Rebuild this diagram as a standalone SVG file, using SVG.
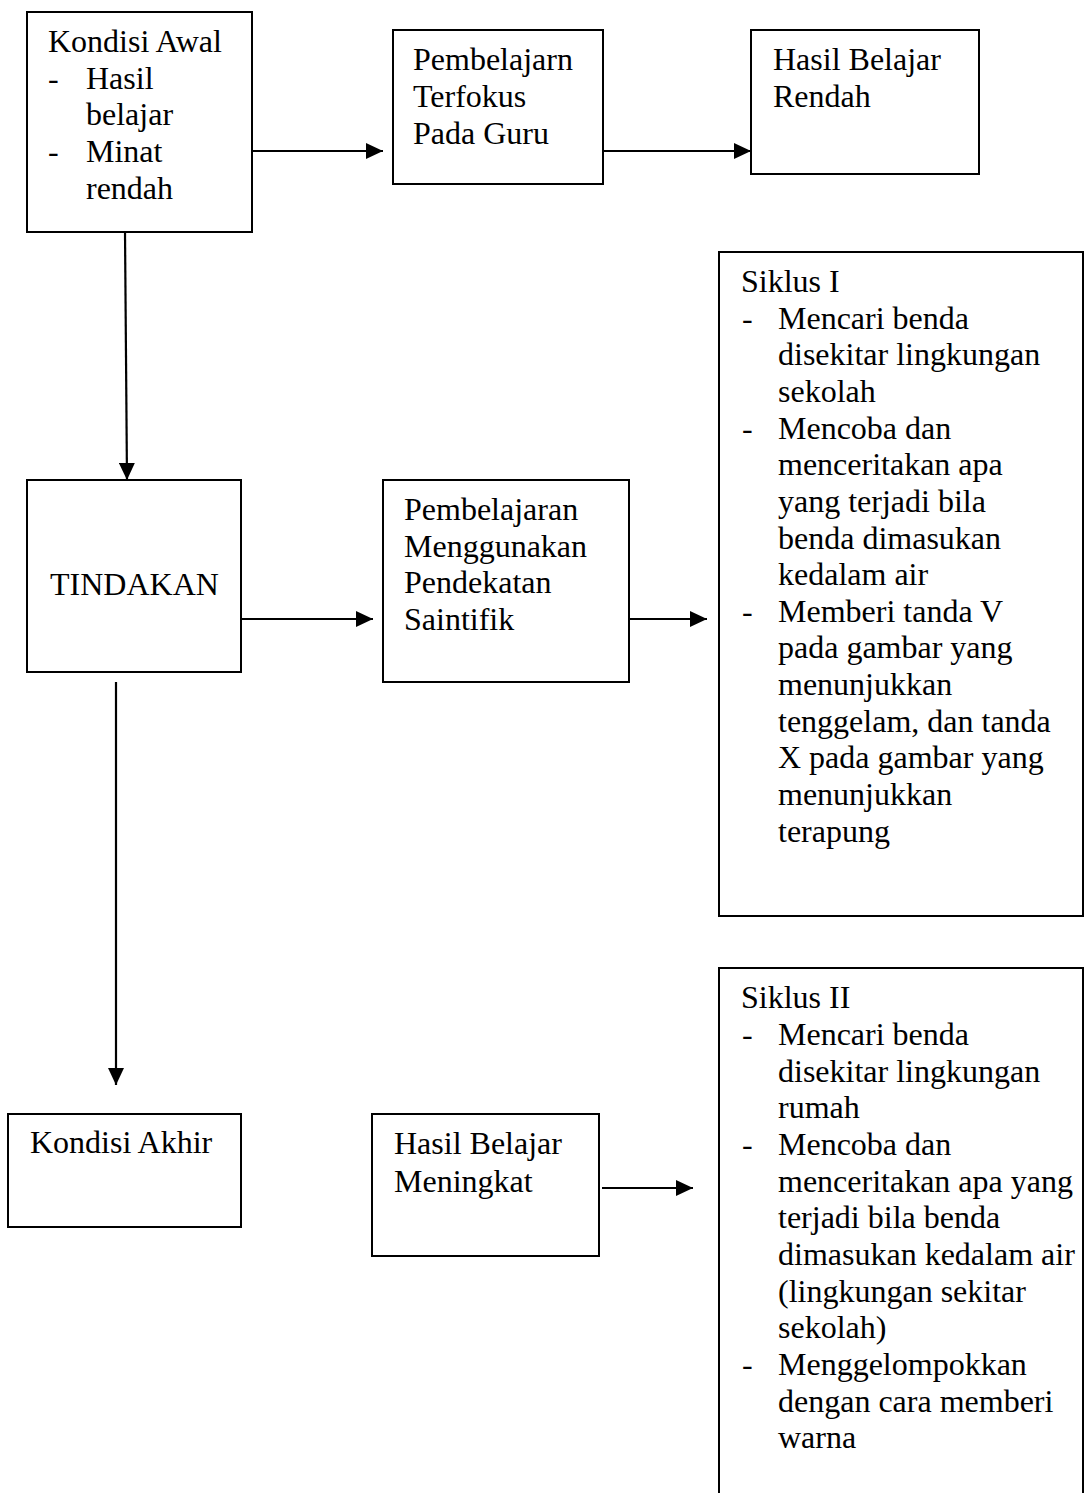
<svg xmlns="http://www.w3.org/2000/svg" width="1085" height="1493" viewBox="0 0 1085 1493">
<style>
.box{fill:#fff;stroke:#000;stroke-width:2}
.t{font-family:"Liberation Serif","Times New Roman",serif;font-size:32px;fill:#000}
.c{stroke:#000;stroke-width:2.2;fill:none}
</style>
<defs>
<marker id="ah" markerUnits="userSpaceOnUse" markerWidth="17" markerHeight="16" refX="17" refY="8" orient="auto">
<path d="M0,0 L17,8 L0,16 z" fill="#000"/>
</marker>
</defs>
<rect width="1085" height="1493" fill="#fff"/>

<g id="kondisi-awal">
<rect class="box" x="27" y="12" width="225" height="220"/>
<text class="t" x="48" y="52">Kondisi Awal</text>
<text class="t" x="48" y="89">-</text><text class="t" x="86" y="89">Hasil</text>
<text class="t" x="86" y="125">belajar</text>
<text class="t" x="48" y="162">-</text><text class="t" x="86" y="162">Minat</text>
<text class="t" x="86" y="199">rendah</text>
</g>

<g id="pembelajarn-guru">
<rect class="box" x="393" y="30" width="210" height="154"/>
<text class="t" x="413" y="70">Pembelajarn</text>
<text class="t" x="413" y="107">Terfokus</text>
<text class="t" x="413" y="144">Pada Guru</text>
</g>

<g id="hasil-rendah">
<rect class="box" x="751" y="30" width="228" height="144"/>
<text class="t" x="773" y="70">Hasil Belajar</text>
<text class="t" x="773" y="107">Rendah</text>
</g>

<g id="tindakan">
<rect class="box" x="27" y="480" width="214" height="192"/>
<text class="t" x="50" y="595">TINDAKAN</text>
</g>

<g id="pembelajaran-saintifik">
<rect class="box" x="383" y="480" width="246" height="202"/>
<text class="t" x="404" y="520">Pembelajaran</text>
<text class="t" x="404" y="557">Menggunakan</text>
<text class="t" x="404" y="593">Pendekatan</text>
<text class="t" x="404" y="630">Saintifik</text>
</g>

<g id="siklus-1">
<rect class="box" x="719" y="252" width="364" height="664"/>
<text class="t" x="741" y="292">Siklus I</text>
<text class="t" x="742" y="329">-</text><text class="t" x="778" y="329">Mencari benda</text>
<text class="t" x="778" y="365">disekitar lingkungan</text>
<text class="t" x="778" y="402">sekolah</text>
<text class="t" x="742" y="439">-</text><text class="t" x="778" y="439">Mencoba dan</text>
<text class="t" x="778" y="475">menceritakan apa</text>
<text class="t" x="778" y="512">yang terjadi bila</text>
<text class="t" x="778" y="549">benda dimasukan</text>
<text class="t" x="778" y="585">kedalam air</text>
<text class="t" x="742" y="622">-</text><text class="t" x="778" y="622">Memberi tanda V</text>
<text class="t" x="778" y="658">pada gambar yang</text>
<text class="t" x="778" y="695">menunjukkan</text>
<text class="t" x="778" y="732">tenggelam, dan tanda</text>
<text class="t" x="778" y="768">X pada gambar yang</text>
<text class="t" x="778" y="805">menunjukkan</text>
<text class="t" x="778" y="842">terapung</text>
</g>

<g id="kondisi-akhir">
<rect class="box" x="8" y="1114" width="233" height="113"/>
<text class="t" x="30" y="1153">Kondisi Akhir</text>
</g>

<g id="hasil-meningkat">
<rect class="box" x="372" y="1114" width="227" height="142"/>
<text class="t" x="394" y="1154">Hasil Belajar</text>
<text class="t" x="394" y="1192">Meningkat</text>
</g>

<g id="siklus-2">
<rect class="box" x="719" y="968" width="364" height="560"/>
<text class="t" x="741" y="1008">Siklus II</text>
<text class="t" x="742" y="1045">-</text><text class="t" x="778" y="1045">Mencari benda</text>
<text class="t" x="778" y="1082">disekitar lingkungan</text>
<text class="t" x="778" y="1118">rumah</text>
<text class="t" x="742" y="1155">-</text><text class="t" x="778" y="1155">Mencoba dan</text>
<text class="t" x="778" y="1192">menceritakan apa yang</text>
<text class="t" x="778" y="1228">terjadi bila benda</text>
<text class="t" x="778" y="1265">dimasukan kedalam air</text>
<text class="t" x="778" y="1302">(lingkungan sekitar</text>
<text class="t" x="778" y="1338">sekolah)</text>
<text class="t" x="742" y="1375">-</text><text class="t" x="778" y="1375">Menggelompokkan</text>
<text class="t" x="778" y="1412">dengan cara memberi</text>
<text class="t" x="778" y="1448">warna</text>
</g>

<g id="connectors">
<line class="c" x1="252" y1="151" x2="383" y2="151" marker-end="url(#ah)"/>
<line class="c" x1="603" y1="151" x2="751" y2="151" marker-end="url(#ah)"/>
<line class="c" x1="125" y1="232" x2="127" y2="480" marker-end="url(#ah)"/>
<line class="c" x1="241" y1="619" x2="373" y2="619" marker-end="url(#ah)"/>
<line class="c" x1="629" y1="619" x2="707" y2="619" marker-end="url(#ah)"/>
<line class="c" x1="116" y1="682" x2="116" y2="1085" marker-end="url(#ah)"/>
<line class="c" x1="602" y1="1188" x2="693" y2="1188" marker-end="url(#ah)"/>
</g>
</svg>
